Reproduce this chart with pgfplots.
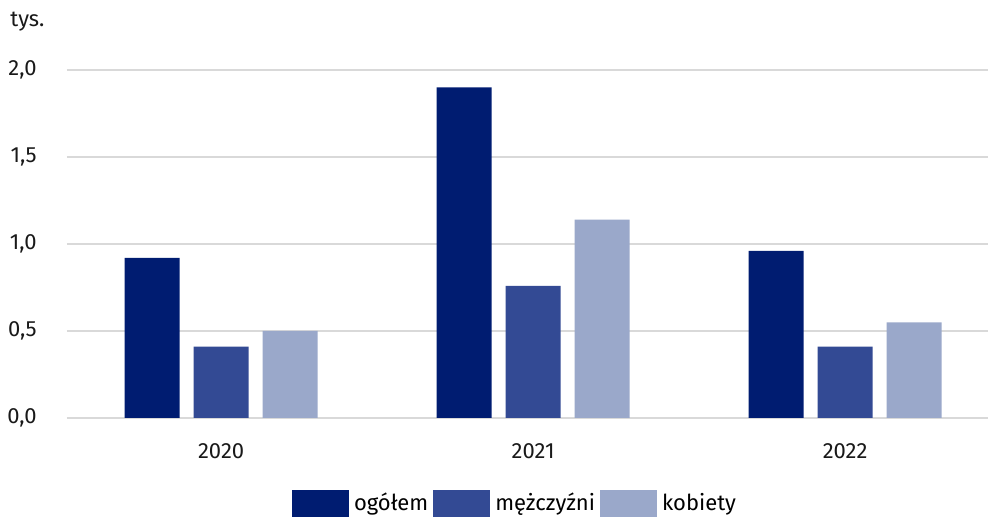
\documentclass[border=0pt]{standalone}
\usepackage{pgfplots}
\pgfplotsset{compat=1.18}
\usepackage{fontspec}
\setmainfont{Fira Sans}
\definecolor{c1}{RGB}{0,28,113}
\definecolor{c2}{RGB}{51,74,148}
\definecolor{c3}{RGB}{154,168,202}
\definecolor{gridc}{RGB}{217,217,217}
\begin{document}
\fontsize{11}{13}\selectfont
\begin{tikzpicture}
\useasboundingbox (0,0) rectangle (494pt,258.5pt);
\begin{axis}[
  at={(33.5pt,49.5pt)}, anchor=south west,
  scale only axis, width=460.5pt, height=174pt,
  ybar=7pt, bar width=27.5pt,
  xmin=-0.494, xmax=2.458, ymin=0, ymax=2,
  xtick={0,1,2}, xticklabels={2020,2021,2022},
  ytick={0,0.5,1,1.5,2},
  axis line style={draw=none},
  major tick length=0pt,
  ymajorgrids, grid style={gridc, line width=1pt},
  yticklabel style={xshift=-11.3pt, /pgf/number format/.cd, fixed, fixed zerofill, precision=1, use comma, assume math mode=true},
  xticklabel style={yshift=-8.8pt},
  tick label style={font=\fontsize{11}{13}\selectfont, text=black!90},
  legend columns=3,
  legend style={draw=none, at={(0.488,-0.2457)}, anchor=center, font=\fontsize{11}{13}\selectfont,
    nodes={inner xsep=2.5pt},
    /tikz/every even column/.append style={column sep=0pt}},
  legend image code/.code={\fill[#1] (0pt,-6.75pt) rectangle (28.5pt,6.75pt);},
  clip=false,
]
\addplot[fill=c1, draw=none] coordinates {(0,0.92) (1,1.90) (2,0.96)};
\addplot[fill=c2, draw=none] coordinates {(0,0.41) (1,0.76) (2,0.41)};
\addplot[fill=c3, draw=none] coordinates {(0,0.50) (1,1.14) (2,0.55)};
\legend{ogółem, mężczyźni, kobiety}
\end{axis}
\node[anchor=west, inner sep=0pt, text=black!90] at (5pt,247.5pt) {tys.};
\end{tikzpicture}
\end{document}
